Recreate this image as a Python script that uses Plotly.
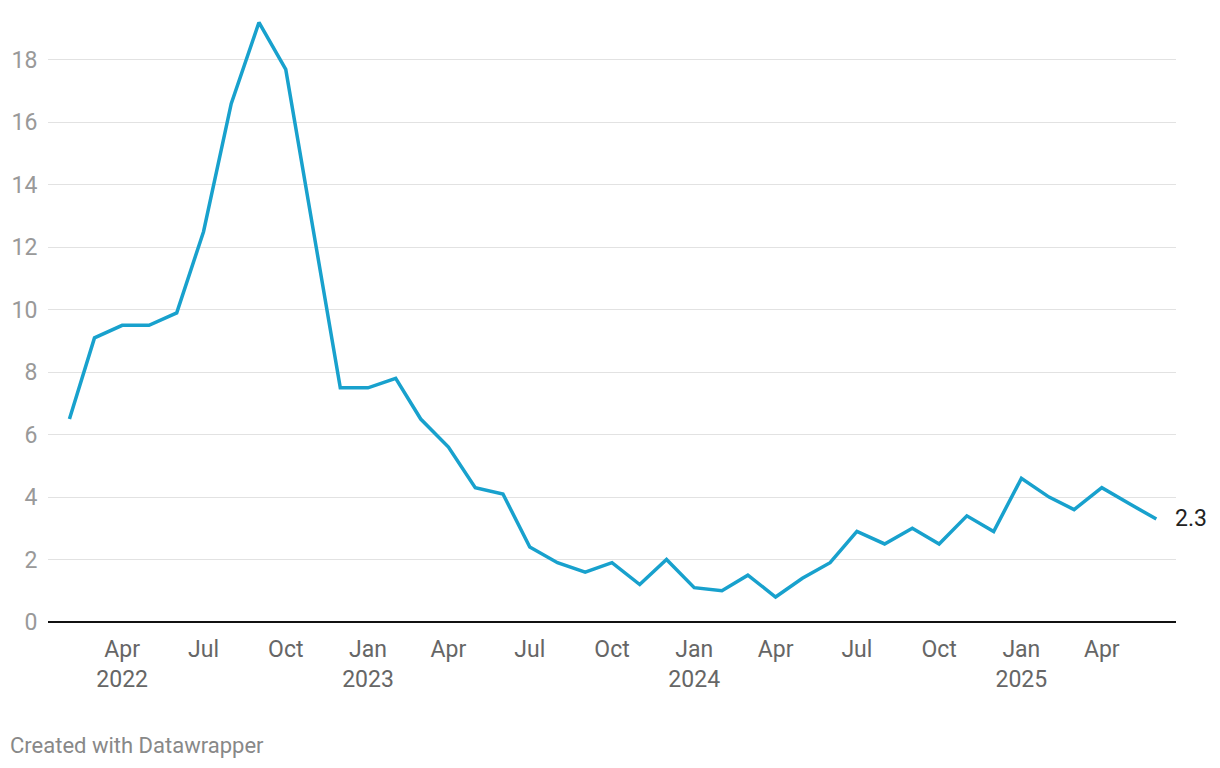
import plotly.graph_objects as go

months = ["2022-02-01","2022-03-01","2022-04-01","2022-05-01","2022-06-01","2022-07-01","2022-08-01","2022-09-01","2022-10-01","2022-11-01","2022-12-01",
          "2023-01-01","2023-02-01","2023-03-01","2023-04-01","2023-05-01","2023-06-01","2023-07-01","2023-08-01","2023-09-01","2023-10-01","2023-11-01","2023-12-01",
          "2024-01-01","2024-02-01","2024-03-01","2024-04-01","2024-05-01","2024-06-01","2024-07-01","2024-08-01","2024-09-01","2024-10-01","2024-11-01","2024-12-01",
          "2025-01-01","2025-02-01","2025-03-01","2025-04-01","2025-05-01","2025-06-01"]
values = [6.5, 9.1, 9.5, 9.5, 9.9, 12.5, 16.6, 19.2, 17.7, 12.6, 7.5,
          7.5, 7.8, 6.5, 5.6, 4.3, 4.1, 2.4, 1.9, 1.6, 1.9, 1.2, 2.0,
          1.1, 1.0, 1.5, 0.8, 1.4, 1.9, 2.9, 2.5, 3.0, 2.5, 3.4, 2.9,
          4.6, 4.0, 3.6, 4.3, 3.8, 3.3]
end_label = "2.3"

tick_vals = ["2022-04-01","2022-07-01","2022-10-01","2023-01-01","2023-04-01","2023-07-01","2023-10-01",
             "2024-01-01","2024-04-01","2024-07-01","2024-10-01","2025-01-01","2025-04-01"]
tick_text = ["Apr<br>2022","Jul","Oct","Jan<br>2023","Apr","Jul","Oct","Jan<br>2024","Apr","Jul","Oct","Jan<br>2025","Apr"]
y_ticks = [0, 2, 4, 6, 8, 10, 12, 14, 16, 18]

fig = go.Figure()
fig.add_trace(go.Scatter(x=months, y=values, mode="lines",
                         line=dict(color="#18a1cd", width=3.5), hoverinfo="skip"))

fig.add_annotation(x=months[-1], y=values[-1], text=end_label, showarrow=False,
                   xanchor="left", yanchor="middle", xshift=17,
                   font=dict(family="Roboto", size=23, color="#222222"))

fig.add_annotation(xref="paper", yref="paper", x=-38/1128, y=(622-745)/612,
                   text="Created with Datawrapper", showarrow=False,
                   xanchor="left", yanchor="middle", xshift=-2,
                   font=dict(family="Roboto", size=22, color="#888888"))

fig.update_layout(
    width=1212, height=760,
    margin=dict(l=40, r=44, t=2, b=146),
    paper_bgcolor="white", plot_bgcolor="white",
    showlegend=False,
    font=dict(family="Roboto"),
    xaxis=dict(
        type="date",
        range=["2022-01-08", "2025-06-23"],
        tickvals=tick_vals, ticktext=tick_text,
        tickfont=dict(family="Roboto", size=23, color="#666666"),
        showgrid=False, zeroline=False,
        showline=False, automargin=False,
        ticks="outside", ticklen=6, tickcolor="rgba(0,0,0,0)",
    ),
    yaxis=dict(
        range=[0, 19.6],
        tickvals=y_ticks,
        tickfont=dict(family="Roboto", size=23, color="#999999"),
        showgrid=True, gridcolor="#e2e2e2", gridwidth=1,
        zeroline=True, zerolinecolor="#111111", zerolinewidth=2,
        automargin=False,
        ticks="outside", ticklen=5, tickcolor="rgba(0,0,0,0)",
    ),
)

fig.write_html("out.html")
